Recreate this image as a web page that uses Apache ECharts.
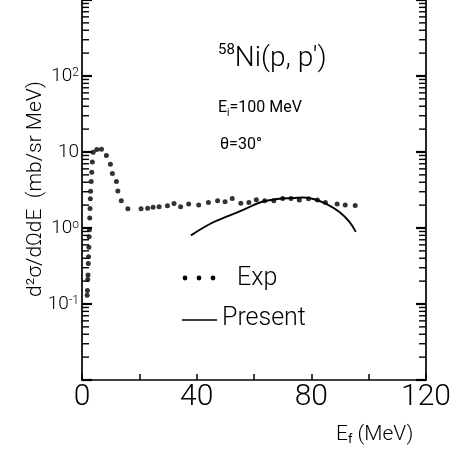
<!DOCTYPE html>
<html>
<head>
<meta charset="utf-8">
<script src="https://cdn.jsdelivr.net/npm/echarts@6/dist/echarts.min.js"></script>
<style>html,body{margin:0;padding:0;background:#fff}#c{width:454px;height:452px}</style>
</head>
<body>
<div id="c"></div>
<script>
// Experimental points (E_f in MeV, d2sigma in mb/sr MeV)
const expE = [1.8,1.9,2.0,2.1,2.2,2.3,2.4,2.5,2.6,2.7,2.8,2.9,3.0,3.2,3.4,3.6,3.9,5.2,6.8,8.5,9.9,10.6,12.0,12.5,13.7,16.0,
  20.6,22.9,24.8,26.9,29.8,32.1,34.4,37.2,40.7,44.1,47.3,49.9,52.4,55.4,58.2,60.8,63.7,66.9,70.0,72.9,75.8,79.0,82.1,84.9,89.0,91.8,95.3];
const expV = [0.13,0.15,0.21,0.24,0.34,0.42,0.56,0.77,0.95,1.35,1.81,2.43,3.05,4.1,5.4,7.4,9.9,10.8,10.9,9.0,6.9,5.2,4.1,3.07,2.29,1.79,
  1.79,1.82,1.87,1.90,1.96,2.10,1.90,2.07,2.01,2.16,2.28,2.21,2.44,2.11,2.17,2.35,2.28,2.28,2.44,2.44,2.33,2.42,2.33,2.17,2.07,2.01,1.97];
// Present calculation
const presE = [38.0,45.1,50.9,56.6,62.3,68.0,73.8,77.2,80.7,85.2,89.8,93.2,95.5];
const presV = [0.80,1.155,1.43,1.76,2.18,2.41,2.48,2.52,2.41,2.08,1.62,1.21,0.89];
// axis ticks
const xTickLabels = [0,40,80,120];
const yTickLabels = {'-1':'10{s|-1}','0':'10{s|o}','1':'10','2':'10{s|2}'};
const yLogTicks = [];
for (let d=-2; d<=2; d++) for (let m=1; m<=9; m++) yLogTicks.push(m*Math.pow(10,d));
yLogTicks.push(1000);

const FONT = 'Roboto, "Liberation Sans", sans-serif';
const chart = echarts.init(document.getElementById('c'), null, {renderer:'canvas'});
const axisLine = {show:true, lineStyle:{color:'#000', width:1.7}};
chart.setOption({
  animation:false,
  backgroundColor:'#fff',
  grid:{left:82, right:24, top:-12, bottom:72},
  xAxis:{type:'value', min:0, max:120, interval:20,
    axisLine:axisLine, splitLine:{show:false},
    axisTick:{show:true, inside:true, length:6, lineStyle:{color:'#000', width:1.5}},
    axisLabel:{fontFamily:FONT, fontWeight:300, fontSize:30, color:'#000', margin:2,
      formatter:v => xTickLabels.indexOf(v)>=0 ? String(v) : ''}},
  yAxis:[
    {type:'log', logBase:10, min:0.01, max:1000, position:'left',
      axisLine:axisLine, splitLine:{show:false}, axisTick:{show:false},
      axisLabel:{fontFamily:FONT, fontWeight:300, fontSize:19, color:'#000', margin:3,
        formatter:v => { const k = Math.round(Math.log10(v)); return yTickLabels[String(k)] || ''; },
        rich:{s:{fontFamily:FONT, fontWeight:300, fontSize:12, color:'#000', verticalAlign:'top', lineHeight:11}}}},
    {type:'log', logBase:10, min:0.01, max:1000, position:'right',
      axisLine:axisLine, splitLine:{show:false}, axisTick:{show:false}, axisLabel:{show:false}}
  ],
  series:[
    {type:'custom', silent:true, clip:false, yAxisIndex:0,
      data:yLogTicks.map(v => [0, v]),
      renderItem:(params, api) => {
        const v = api.value(1);
        const p1 = api.coord([0, v]);
        const p2 = api.coord([120, v]);
        const lg = Math.log10(v);
        const major = Math.abs(lg - Math.round(lg)) < 1e-6;
        const L = major ? 10 : 7;
        const st = {stroke:'#000', lineWidth: major ? 2.2 : 1.4};
        return {type:'group', children:[
          {type:'line', shape:{x1:p1[0], y1:p1[1], x2:p1[0]+L, y2:p1[1]}, style:st},
          {type:'line', shape:{x1:p2[0], y1:p2[1], x2:p2[0]-L, y2:p2[1]}, style:st}
        ]};
      }},
    {type:'scatter', name:'Exp', data:expE.map((e,i)=>[e, expV[i]]), symbol:'circle', symbolSize:5,
      itemStyle:{color:'#000'}},
    {type:'line', name:'Present', data:presE.map((e,i)=>[e, presV[i]]), smooth:0.4, showSymbol:false,
      lineStyle:{color:'#000', width:1.9}}
  ],
  graphic:[
    {type:'text', left:218, top:43, style:{text:'{s|58}{m|Ni(p, p\')}',
      rich:{s:{fontFamily:FONT, fontSize:15, fill:'#000', verticalAlign:'top', lineHeight:15},
            m:{fontFamily:FONT, fontWeight:300, fontSize:28, fill:'#000', lineHeight:32}}}},
    {type:'text', left:218, top:100, style:{text:'{m|E}{b|i}{m|=100 MeV}',
      rich:{m:{fontFamily:FONT, fontSize:16, fill:'#000', lineHeight:20},
            b:{fontFamily:FONT, fontSize:10, fill:'#000', verticalAlign:'bottom', lineHeight:10}}}},
    {type:'text', left:220, top:137, style:{text:'θ=30°', font:'16px '+FONT, fill:'#000'}},
    // legend
    {type:'circle', shape:{cx:185, cy:278, r:2.4}, style:{fill:'#000'}},
    {type:'circle', shape:{cx:199, cy:278, r:2.4}, style:{fill:'#000'}},
    {type:'circle', shape:{cx:213, cy:278, r:2.4}, style:{fill:'#000'}},
    {type:'text', left:237, top:266, style:{text:'Exp', font:'300 25px '+FONT, fill:'#000'}},
    {type:'line', shape:{x1:182, y1:320, x2:217, y2:320}, style:{stroke:'#000', lineWidth:1.7}},
    {type:'text', left:222, top:306, style:{text:'Present', font:'300 25px '+FONT, fill:'#000'}},
    // axis titles
    {type:'text', left:336, top:424, style:{text:'{m|E}{b|f}{m| (MeV)}',
      rich:{m:{fontFamily:FONT, fontWeight:300, fontSize:21, fill:'#000', lineHeight:24},
            b:{fontFamily:FONT, fontSize:13, fill:'#000', verticalAlign:'bottom', lineHeight:12}}}},
    {type:'text', x:36, y:189, rotation:Math.PI/2, style:{text:'d²σ/dΩdE  (mb/sr MeV)',
      font:'300 21px '+FONT, fill:'#000', textAlign:'center', textVerticalAlign:'middle'}}
  ]
});
</script>
</body>
</html>
